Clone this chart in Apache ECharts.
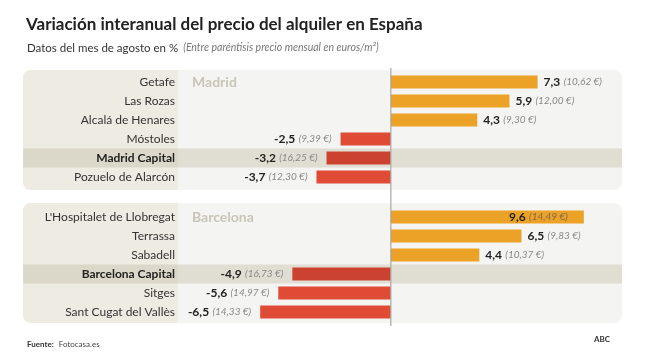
<!DOCTYPE html>
<html><head><meta charset="utf-8">
<script src="https://cdn.jsdelivr.net/npm/echarts@6/dist/echarts.min.js"></script>
<style>html,body{margin:0;padding:0;background:#fff}#c{width:646px;height:358px}</style>
</head><body><div id="c"></div>
<script>
// ---- data ----
const madridCities = ['Getafe', 'Las Rozas', 'Alcalá de Henares', 'Móstoles', 'Madrid Capital', 'Pozuelo de Alarcón'];
const madridValues = [7.3, 5.9, 4.3, -2.5, -3.2, -3.7];
const madridPrices = ['10,62', '12,00', '9,30', '9,39', '16,25', '12,30'];
const bcnCities = ["L'Hospitalet de Llobregat", 'Terrassa', 'Sabadell', 'Barcelona Capital', 'Sitges', 'Sant Cugat del Vallès'];
const bcnValues = [9.6, 6.5, 4.4, -4.9, -5.6, -6.5];
const bcnPrices = ['14,49', '9,83', '10,37', '16,73', '14,97', '14,33'];
const capitals = ['Madrid Capital', 'Barcelona Capital'];
const insideLabels = ["L'Hospitalet de Llobregat"];
const panelNames = ['Madrid', 'Barcelona'];

// ---- layout / style ----
const FONT = 'Lato, "Open Sans", sans-serif';
const X_MIN = -18.3, X_MAX = 11.5;
const PANEL_LEFT = 23, PANEL_RIGHT = 24, PANEL_W = 646 - 23 - 24;
const panels = [{ top: 70, h: 120, gridTop: 72.5 }, { top: 203, h: 120, gridTop: 207.5 }];
const GRID_H = 114;
const LABEL_SPLIT = 178;
const C_POS = '#eba227', C_NEG = '#e04b36', C_NEG_CAP = '#cc4230';

const chart = echarts.init(document.getElementById('c'));

function fmt(v) { return String(v.toFixed(1)).replace('.', ','); }

function barData(cities, values, prices) {
  return values.map((v, i) => {
    const cap = capitals.includes(cities[i]);
    const inside = insideLabels.includes(cities[i]);
    return {
      value: v,
      itemStyle: { color: v >= 0 ? C_POS : (cap ? C_NEG_CAP : C_NEG) },
      label: {
        show: true,
        position: inside ? 'insideRight' : (v >= 0 ? 'right' : 'left'),
        distance: inside ? 16 : (v >= 0 ? 6 : 9),
        formatter: '{v|' + fmt(v) + '} {p|(' + prices[i] + ' €)}',
        rich: {
          v: { fontFamily: FONT, fontWeight: 'bold', fontSize: 12, color: '#222' },
          p: { fontFamily: FONT, fontStyle: 'italic', fontSize: 10, color: inside ? '#7d6a4a' : '#888' }
        }
      }
    };
  });
}

const groups = [
  { cities: madridCities, values: madridValues, prices: madridPrices },
  { cities: bcnCities, values: bcnValues, prices: bcnPrices }
];

const grid = [], xAxis = [], yAxis = [], series = [];
groups.forEach((g, k) => {
  grid.push({ left: PANEL_LEFT, width: PANEL_W, top: panels[k].gridTop, height: GRID_H, containLabel: false });
  xAxis.push({ type: 'value', gridIndex: k, min: X_MIN, max: X_MAX, show: false });
  xAxis.push({ type: 'value', gridIndex: k, min: 0, max: 1, show: false });
  yAxis.push({
    type: 'category', gridIndex: k, data: g.cities, inverse: true, z: 10,
    axisLine: { show: false }, axisTick: { show: false },
    axisLabel: {
      margin: -(LABEL_SPLIT - 3 - PANEL_LEFT), color: '#333', fontFamily: FONT, fontSize: 12,
      formatter: v => capitals.includes(v) ? '{b|' + v + '}' : v,
      rich: { b: { fontFamily: FONT, fontWeight: 'bold', fontSize: 12, color: '#222' } }
    }
  });
  yAxis.push({ type: 'category', gridIndex: k, data: g.cities, inverse: true, show: false });
  // highlight band for capital rows
  series.push({
    type: 'bar', xAxisIndex: 2 * k + 1, yAxisIndex: 2 * k + 1, silent: true, barWidth: '100%', z: 1,
    itemStyle: { color: 'rgba(185,176,145,0.32)' },
    data: g.cities.map(c => capitals.includes(c) ? 1 : '-')
  });
  series.push({
    type: 'bar', xAxisIndex: 2 * k, yAxisIndex: 2 * k, barWidth: 13, z: 3,
    data: barData(g.cities, g.values, g.prices)
  });
});

const option = {
  animation: false,
  backgroundColor: '#fff',
  title: [
    { text: 'Variación interanual del precio del alquiler en España', left: 21, top: 11,
      textStyle: { fontFamily: FONT, fontWeight: 'bold', fontSize: 17, color: '#222' } },
    { text: '{a|Datos del mes de agosto en %} {i|(Entre paréntisis precio mensual en euros/m²)}', left: 22, top: 34,
      textStyle: { fontWeight: 'normal', rich: {
        a: { fontFamily: FONT, fontSize: 11.5, fontWeight: 'normal', color: '#333' },
        i: { fontFamily: FONT, fontSize: 10.5, fontStyle: 'italic', fontWeight: 'normal', color: '#777' } } } },
    { text: '{b|Fuente:} {n|Fotocasa.es}', left: 22, top: 330,
      textStyle: { fontWeight: 'normal', rich: {
        b: { fontFamily: FONT, fontSize: 8, fontWeight: 'bold', color: '#333' },
        n: { fontFamily: FONT, fontSize: 8, fontWeight: 'normal', color: '#444' } } } },
    { text: 'ABC', right: 31, top: 330, textStyle: { fontFamily: FONT, fontSize: 8, fontWeight: 'bold', color: '#333' } }
  ],
  grid, xAxis, yAxis, series
};
chart.setOption(option);

// decorative panels, zero line and panel names
const x0 = chart.convertToPixel({ xAxisIndex: 0 }, 0);
const graphics = [];
panels.forEach((p, k) => {
  graphics.push({ type: 'rect', z: -10, silent: true,
    shape: { x: PANEL_LEFT, y: p.top, width: PANEL_W, height: p.h, r: 8 },
    style: { fill: '#f4f4f2' } });
  graphics.push({ type: 'rect', z: -9, silent: true,
    shape: { x: PANEL_LEFT, y: p.top, width: LABEL_SPLIT - PANEL_LEFT, height: p.h, r: [8, 0, 0, 8] },
    style: { fill: '#eeebe3' } });
  graphics.push({ type: 'text', z: 5, silent: true,
    style: { text: panelNames[k], x: LABEL_SPLIT + 14, y: p.gridTop + 9.5, textVerticalAlign: 'middle',
      verticalAlign: 'middle', fontFamily: FONT, fontWeight: 'bold', fontSize: 14, fill: '#c9c6b7' } });
});
graphics.push({ type: 'line', z: 20, silent: true,
  shape: { x1: x0, y1: panels[0].top - 2, x2: x0, y2: panels[1].top + panels[1].h + 3 },
  style: { stroke: '#a8a8a8', lineWidth: 1.2 } });
chart.setOption({ graphic: graphics });
</script>
</body></html>
